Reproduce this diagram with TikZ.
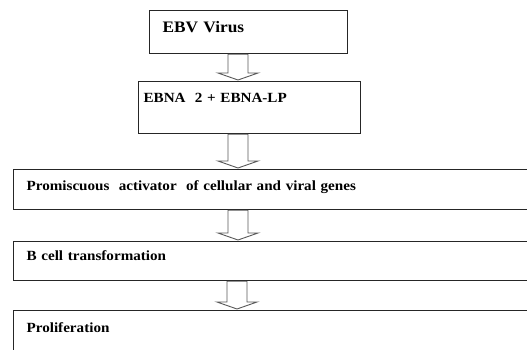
\documentclass[tikz,border=0pt]{standalone}
\usepackage{fontspec}
\setmainfont{Liberation Serif}[FakeStretch=1.08]
\usetikzlibrary{calc}
\tikzset{
  x=1pt, y=1pt,
  stepbox/.style={draw=black!85, line width=1.2pt, rectangle, anchor=north west,
    inner xsep=0pt, inner ysep=0pt, align=left,
    font=\bfseries\fontsize{14}{16}\selectfont},
  flowarrow/.style={draw=black!65, line width=0.9pt, fill=white, line join=miter},
}
% block arrow from the bottom of box #1 to the top of box #2, centred at x=#3
\newcommand{\blockarrow}[3]{%
  \path let \p1=(#1.south), \p2=(#2.north) in
    [flowarrow] (#3-10,\y1) -- (#3+10,\y1) -- (#3+10,\y2+8) -- (#3+20,\y2+8)
    -- (#3,\y2+1) -- (#3-20,\y2+8) -- (#3-10,\y2+8) -- cycle;}
\begin{document}
\begin{tikzpicture}
\useasboundingbox (0,0) rectangle (527,-349);
% boxes: text height = top edge to baseline, text depth = baseline to bottom edge
\node[stepbox, minimum width=198pt, text height=22pt, text depth=21pt,
      font=\bfseries\fontsize{16}{18}\selectfont, text width=198pt]
      (ebv) at (149,-10) {\hspace*{13pt}EBV Virus};
\node[stepbox, minimum width=222pt, text height=21pt, text depth=31pt,
      text width=222pt] (ebna) at (138,-81) {\hspace*{5pt}EBNA\ \ 2 + EBNA-LP};
\node[stepbox, minimum width=560pt, text height=21pt, text depth=19pt,
      text width=560pt] (prom) at (13,-169)
      {\hspace*{13pt}Promiscuous\ \ activator\ \ of cellular and viral genes};
\node[stepbox, minimum width=560pt, text height=19pt, text depth=20pt,
      text width=560pt] (bcell) at (13,-241) {\hspace*{13pt}B cell transformation};
\node[stepbox, minimum width=560pt, text height=22pt, text depth=30pt,
      text width=560pt] (prol) at (13,-310) {\hspace*{13pt}Proliferation};
% connecting block arrows
\blockarrow{ebv}{ebna}{238}
\blockarrow{ebna}{prom}{238}
\blockarrow{prom}{bcell}{238}
\blockarrow{bcell}{prol}{237}
\end{tikzpicture}
\end{document}
